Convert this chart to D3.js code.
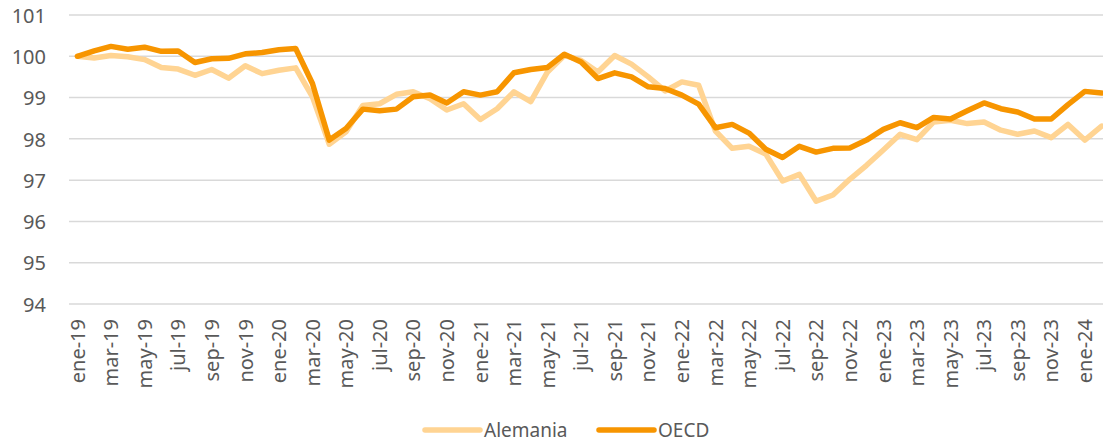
<!doctype html>
<html>
  <head>
    <meta charset="utf-8">
    <title>Alemania vs OECD</title>
    <script src="https://cdnjs.cloudflare.com/ajax/libs/d3/7.8.5/d3.min.js"></script>
    <style>
      body { margin: 0; background: #fff; }
      text { font-family: "Noto Sans", sans-serif; fill: #595959; }
    </style>
  </head>
  <body>
    <div id="chart"></div>
    <script>
      // months, ene-19 .. feb-24
      const months = [
        "ene-19","feb-19","mar-19","abr-19","may-19","jun-19","jul-19","ago-19","sep-19","oct-19","nov-19","dic-19",
        "ene-20","feb-20","mar-20","abr-20","may-20","jun-20","jul-20","ago-20","sep-20","oct-20","nov-20","dic-20",
        "ene-21","feb-21","mar-21","abr-21","may-21","jun-21","jul-21","ago-21","sep-21","oct-21","nov-21","dic-21",
        "ene-22","feb-22","mar-22","abr-22","may-22","jun-22","jul-22","ago-22","sep-22","oct-22","nov-22","dic-22",
        "ene-23","feb-23","mar-23","abr-23","may-23","jun-23","jul-23","ago-23","sep-23","oct-23","nov-23","dic-23",
        "ene-24","feb-24"
      ];

      const alemania = [
        100.00, 99.96, 100.02, 99.99, 99.92, 99.73, 99.69, 99.54, 99.68, 99.47, 99.77, 99.58,
        99.66, 99.72, 99.02, 97.87, 98.17, 98.81, 98.85, 99.08, 99.14, 98.97, 98.70, 98.85,
        98.47, 98.73, 99.14, 98.90, 99.62, 100.02, 99.90, 99.62, 100.02, 99.81, 99.50, 99.16,
        99.38, 99.30, 98.19, 97.77, 97.82, 97.63, 96.98, 97.14, 96.49, 96.64, 97.02, 97.36,
        97.73, 98.11, 97.98, 98.41, 98.45, 98.37, 98.41, 98.21, 98.11, 98.19, 98.03, 98.35,
        97.97, 98.31
      ];

      const oecd = [
        100.00, 100.13, 100.24, 100.17, 100.22, 100.12, 100.13, 99.85, 99.94, 99.95, 100.06, 100.09,
        100.16, 100.19, 99.34, 97.97, 98.25, 98.72, 98.68, 98.72, 99.02, 99.06, 98.87, 99.14,
        99.06, 99.14, 99.60, 99.68, 99.73, 100.05, 99.86, 99.46, 99.60, 99.50, 99.26, 99.22,
        99.06, 98.84, 98.27, 98.35, 98.14, 97.75, 97.55, 97.82, 97.68, 97.77, 97.78, 97.97,
        98.23, 98.39, 98.27, 98.52, 98.48, 98.68, 98.87, 98.73, 98.65, 98.48, 98.48, 98.83,
        99.15, 99.11
      ];

      const yTicks = [94, 95, 96, 97, 98, 99, 100, 101];

      const seriesNames = ["Alemania", "OECD"];
      const seriesColors = ["#FFD493", "#F79500"];

      const W = 1103, H = 443;
      const plotLeft = 69, plotRight = 1110, plotTop = 15, plotBottom = 304;

      const svg = d3.select("#chart")
        .append("svg")
        .attr("width", W)
        .attr("height", H);

      const x = d3.scaleBand()
        .domain(months)
        .range([plotLeft, plotRight])
        .paddingInner(0)
        .paddingOuter(0);

      const y = d3.scaleLinear()
        .domain([94, 101])
        .range([plotBottom, plotTop]);

      // gridlines
      svg.append("g")
        .selectAll("line")
        .data(yTicks)
        .join("line")
        .attr("x1", plotLeft)
        .attr("x2", W)
        .attr("y1", d => y(d))
        .attr("y2", d => y(d))
        .attr("stroke", "#D9D9D9")
        .attr("stroke-width", 1.5);

      // y axis labels
      const yAxis = svg.append("g")
        .attr("transform", `translate(${plotLeft - 23},0)`)
        .call(d3.axisLeft(y).tickValues(yTicks).tickFormat(d3.format("d")).tickSize(0).tickPadding(0));
      yAxis.select(".domain").remove();
      yAxis.selectAll("text")
        .style("font-size", "20px")
        .attr("dy", "0.36em")
        .attr("text-anchor", "end");

      // x axis labels, every second month
      const xAxis = svg.append("g")
        .attr("transform", `translate(0,${plotBottom})`)
        .call(d3.axisBottom(x)
          .tickValues(months.filter((m, i) => i % 2 === 0))
          .tickSize(0));
      xAxis.select(".domain").remove();
      xAxis.selectAll("text")
        .style("font-size", "20px")
        .attr("text-anchor", "end")
        .attr("transform", "translate(0,15) rotate(-90)")
        .attr("x", 0)
        .attr("y", 0)
        .attr("dy", "0.36em");

      // lines
      const line = d3.line()
        .x((d, i) => x(months[i]) + x.bandwidth() / 2)
        .y(d => y(d))
        .curve(d3.curveLinear);

      [alemania, oecd].forEach((vals, k) => {
        svg.append("path")
          .datum(vals)
          .attr("fill", "none")
          .attr("stroke", seriesColors[k])
          .attr("stroke-width", 5.5)
          .attr("stroke-linejoin", "round")
          .attr("stroke-linecap", "round")
          .attr("d", line);
      });

      // legend
      const legendX = [425, 599];
      const legend = svg.append("g")
        .selectAll("g")
        .data(seriesNames)
        .join("g")
        .attr("transform", (d, i) => `translate(${legendX[i]},430)`);

      legend.append("line")
        .attr("x1", 0)
        .attr("x2", 55)
        .attr("y1", 0)
        .attr("y2", 0)
        .attr("stroke", (d, i) => seriesColors[i])
        .attr("stroke-width", 5.5)
        .attr("stroke-linecap", "round");

      legend.append("text")
        .attr("x", 59)
        .attr("y", 0)
        .attr("dy", "0.36em")
        .style("font-size", "19px")
        .text(d => d);
    </script>
  </body>
</html>
